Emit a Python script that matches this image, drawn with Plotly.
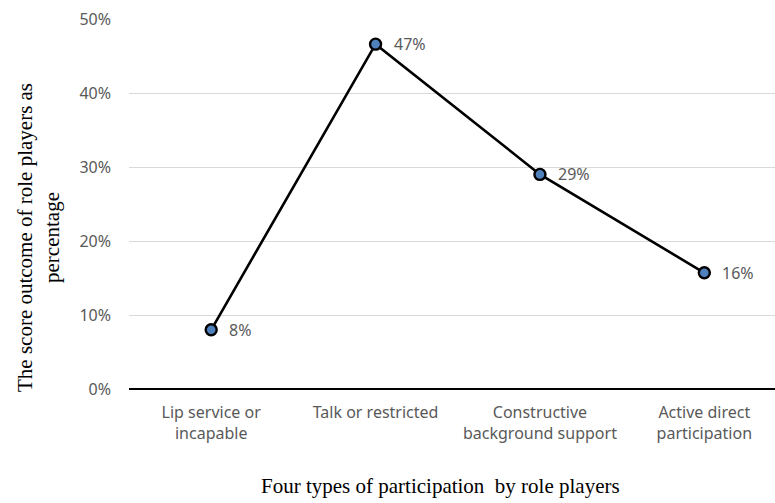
import plotly.graph_objects as go

# Participation categories and score outcomes
categories = ["Lip service or<br>incapable", "Talk or restricted",
              "Constructive<br>background support", "Active direct<br>participation"]
scores = [0.08, 0.466, 0.29, 0.157]
y_ticks = [0, 0.1, 0.2, 0.3, 0.4, 0.5]
y_tick_labels = ["0%", "10%", "20%", "30%", "40%", "50%"]

W, H = 775, 503
L, R, T, B = 129, 0, 19, 114
PW, PH = W - L - R, H - T - B

fig = go.Figure()
fig.add_trace(go.Scatter(
    x=categories, y=scores,
    mode="lines+markers",
    line=dict(color="black", width=2.6),
    marker=dict(size=11, color="#4F81BD", line=dict(color="black", width=2.4)),
    cliponaxis=False,
    hoverinfo="skip",
))

# value labels to the right of each point
labels = [
    dict(x=c, y=v, text=f"{v:.0%}", xref="x", yref="y",
         xanchor="left", yanchor="middle", xshift=16, showarrow=False,
         font=dict(family="Noto Sans", size=16, color="#595959"))
    for c, v in zip(categories, scores)
]

titles = [
    dict(text="Four types of participation  by role players",
         xref="paper", yref="paper", x=(440 - L) / PW, y=-(486 - (H - B)) / PH,
         xanchor="center", yanchor="middle", showarrow=False,
         font=dict(family="Liberation Serif", size=21, color="black")),
    dict(text="The score outcome of role players as<br>percentage",
         xref="paper", yref="paper", x=-(L - 39) / PW, y=(H - B - 238) / PH,
         xanchor="center", yanchor="middle", textangle=-90, showarrow=False,
         font=dict(family="Liberation Serif", size=21, color="black")),
]

fig.update_layout(
    width=W, height=H,
    margin=dict(l=L, r=R, t=T, b=B),
    paper_bgcolor="white", plot_bgcolor="white",
    showlegend=False,
    xaxis=dict(
        type="category", range=[-0.5, 3.43],
        showgrid=False, showline=False, zeroline=False,
        ticks="", ticklabelstandoff=12,
        tickfont=dict(family="Noto Sans", size=16, color="#595959"),
    ),
    yaxis=dict(
        range=[0, 0.5], tickvals=y_ticks, ticktext=y_tick_labels,
        showgrid=True, gridcolor="#D9D9D9", gridwidth=1,
        zeroline=True, zerolinecolor="black", zerolinewidth=1.6,
        showline=False, ticks="", ticklabelstandoff=17,
        tickfont=dict(family="Noto Sans", size=16, color="#595959"),
    ),
    annotations=labels + titles,
)

fig.write_html("out.html")
